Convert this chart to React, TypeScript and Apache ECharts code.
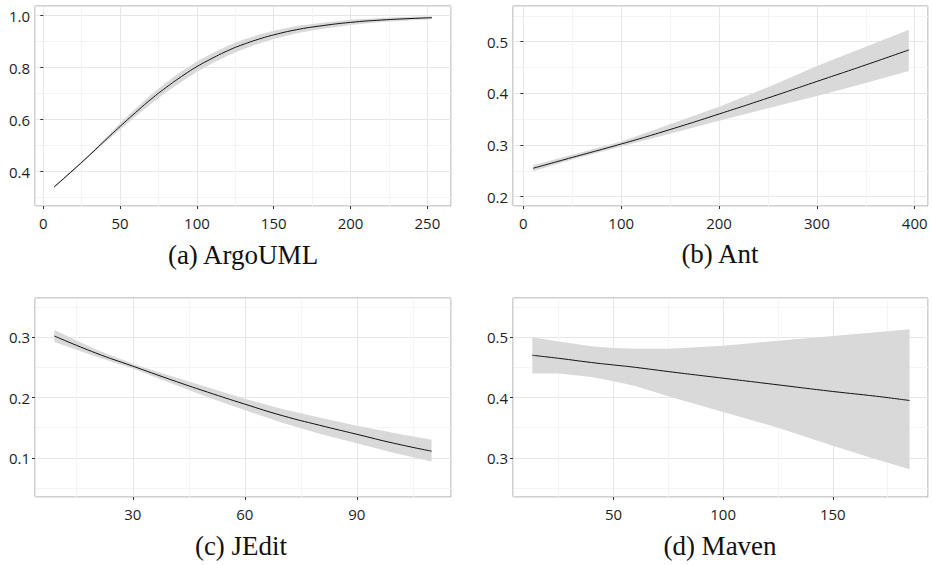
import React, { useEffect, useRef } from "react";
import * as echarts from "echarts";

// (a) ArgoUML
const argoX = [7, 20, 30, 40, 50, 60, 70, 80, 90, 100, 110, 120, 130, 140, 150, 165, 180, 200, 220, 240, 253];
const argoY = [0.341, 0.409, 0.463, 0.519, 0.574, 0.627, 0.678, 0.724, 0.766, 0.804, 0.836, 0.865, 0.889, 0.909, 0.926, 0.946, 0.96, 0.974, 0.983, 0.989, 0.992];
const argoLo = [0.337, 0.405, 0.458, 0.511, 0.562, 0.612, 0.66, 0.705, 0.746, 0.784, 0.817, 0.846, 0.871, 0.892, 0.91, 0.932, 0.948, 0.964, 0.975, 0.982, 0.986];
const argoHi = [0.345, 0.413, 0.468, 0.527, 0.586, 0.642, 0.696, 0.743, 0.786, 0.824, 0.855, 0.884, 0.907, 0.926, 0.942, 0.96, 0.972, 0.984, 0.991, 0.996, 0.998];

// (b) Ant
const antX = [10, 50, 100, 150, 200, 250, 300, 350, 394];
const antY = [0.255, 0.276, 0.302, 0.33, 0.36, 0.391, 0.423, 0.455, 0.484];
const antLo = [0.249, 0.272, 0.297, 0.322, 0.347, 0.371, 0.395, 0.42, 0.443];
const antHi = [0.261, 0.281, 0.307, 0.34, 0.374, 0.412, 0.453, 0.49, 0.523];

// (c) JEdit
const jeX = [9, 20, 30, 40, 50, 60, 70, 80, 90, 100, 110];
const jeY = [0.302, 0.274, 0.252, 0.23, 0.209, 0.189, 0.17, 0.154, 0.139, 0.124, 0.111];
const jeLo = [0.292, 0.268, 0.248, 0.224, 0.201, 0.179, 0.158, 0.14, 0.124, 0.108, 0.094];
const jeHi = [0.312, 0.28, 0.256, 0.236, 0.217, 0.198, 0.181, 0.167, 0.153, 0.141, 0.13];

// (d) Maven
const mvX = [13, 25, 40, 50, 60, 75, 100, 125, 150, 170, 185];
const mvY = [0.47, 0.465, 0.458, 0.454, 0.45, 0.443, 0.432, 0.421, 0.41, 0.402, 0.395];
const mvLo = [0.44, 0.44, 0.434, 0.427, 0.419, 0.402, 0.376, 0.35, 0.32, 0.297, 0.281];
const mvHi = [0.5, 0.493, 0.485, 0.482, 0.481, 0.481, 0.486, 0.494, 0.502, 0.508, 0.513];

const captions = ["(a) ArgoUML", "(b) Ant", "(c) JEdit", "(d) Maven"];

const panels = [
  { x: argoX, y: argoY, lo: argoLo, hi: argoHi, xMin: -5.4, xMax: 265.4, xSplit: 5, yMin: 0.268, yMax: 1.037, ySplit: 4 },
  { x: antX, y: antY, lo: antLo, hi: antHi, xMin: -10.6, xMax: 413.6, xSplit: 4, yMin: 0.182, yMax: 0.569, ySplit: 4 },
  { x: jeX, y: jeY, lo: jeLo, hi: jeHi, xMin: 3.83, xMax: 115.2, xSplit: 4, yMin: 0.035, yMax: 0.365, ySplit: 3 },
  { x: mvX, y: mvY, lo: mvLo, hi: mvHi, xMin: 4.2, xMax: 193.4, xSplit: 4, yMin: 0.235, yMax: 0.565, ySplit: 3 },
];

const grids = [
  { left: 35, top: 6, width: 416, height: 200 },
  { left: 513, top: 6, width: 415, height: 200 },
  { left: 35, top: 298, width: 416, height: 199 },
  { left: 513, top: 298, width: 415, height: 199 },
];

const captionPos = [
  [243, 255],
  [720, 254],
  [241, 546],
  [720, 546],
];

export default function App() {
  const ref = useRef<HTMLDivElement>(null);
  useEffect(() => {
    if (!ref.current) return;
    const chart = echarts.init(ref.current, undefined, { renderer: "svg" });
    const labelStyle = {
      fontFamily: "Open Sans",
      fontSize: 15,
      color: "#1e1e1e",
      showMinLabel: false,
      showMaxLabel: false,
    };
    const xAxis = panels.map((p, i) => ({
      type: "value",
      gridIndex: i,
      min: p.xMin,
      max: p.xMax,
      splitNumber: p.xSplit,
      axisLine: { show: false },
      axisTick: { show: true, length: 3, lineStyle: { color: "#333" } },
      axisLabel: { ...labelStyle, margin: 9, formatter: (v: number) => String(Math.round(v)) },
      splitLine: { show: true, lineStyle: { color: "#e6e6e6", width: 1 } },
      minorTick: { show: false, splitNumber: 2 },
      minorSplitLine: { show: true, lineStyle: { color: "#f4f4f4", width: 1 } },
    }));
    const yAxis = panels.map((p, i) => ({
      type: "value",
      gridIndex: i,
      min: p.yMin,
      max: p.yMax,
      splitNumber: p.ySplit,
      axisLine: { show: false },
      axisTick: { show: true, length: 3, lineStyle: { color: "#333" } },
      axisLabel: { ...labelStyle, margin: 5, formatter: (v: number) => v.toFixed(1) },
      splitLine: { show: true, lineStyle: { color: "#e6e6e6", width: 1 } },
      minorTick: { show: false, splitNumber: 2 },
      minorSplitLine: { show: true, lineStyle: { color: "#f4f4f4", width: 1 } },
    }));
    const series: any[] = [];
    panels.forEach((p, i) => {
      series.push({
        type: "custom",
        xAxisIndex: i,
        yAxisIndex: i,
        silent: true,
        data: p.x.map((x, k) => [x, p.y[k]]),
        renderItem: (params: any, api: any) => {
          if (params.dataIndex !== 0) return null;
          const pts: number[][] = [];
          for (let k = 0; k < p.x.length; k++) pts.push(api.coord([p.x[k], p.hi[k]]));
          for (let k = p.x.length - 1; k >= 0; k--) pts.push(api.coord([p.x[k], p.lo[k]]));
          return {
            type: "polygon",
            shape: { points: pts },
            style: { fill: "#d9d9d9", stroke: "none" },
          };
        },
        z: 2,
      });
      series.push({
        type: "line",
        xAxisIndex: i,
        yAxisIndex: i,
        data: p.x.map((x, k) => [x, p.y[k]]),
        smooth: true,
        showSymbol: false,
        lineStyle: { color: "#111", width: 1 },
        z: 3,
      });
    });
    const graphic = captions.map((t, i) => ({
      type: "text",
      x: captionPos[i][0],
      y: captionPos[i][1],
      style: {
        text: t,
        font: '27px "Liberation Serif"',
        fill: "#111",
        align: "center",
        verticalAlign: "middle",
        textAlign: "center",
        textVerticalAlign: "middle",
      },
    }));
    chart.setOption({
      animation: false,
      backgroundColor: "#fff",
      grid: grids.map((g) => ({
        ...g,
        show: true,
        borderColor: "#a3a3a3",
        borderWidth: 1,
        backgroundColor: "#fff",
        containLabel: false,
      })),
      xAxis,
      yAxis,
      series,
      graphic,
    });
    return () => chart.dispose();
  }, []);
  return (
    <div
      ref={ref}
      style={{ position: "absolute", left: 0, top: 0, width: 932, height: 565 }}
    />
  );
}
